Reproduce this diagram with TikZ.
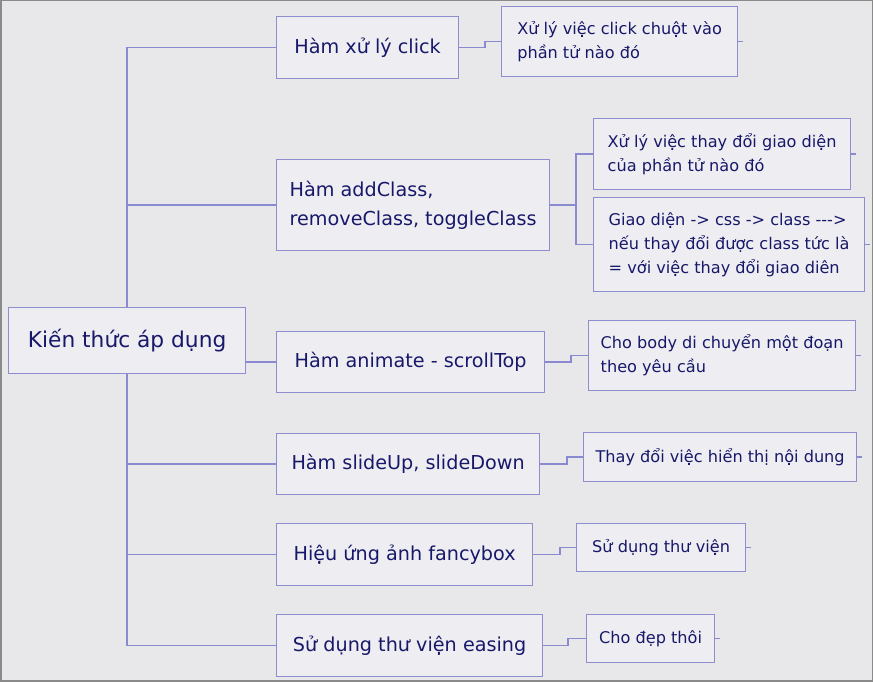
\documentclass[tikz,border=0pt]{standalone}
\usepackage{fontspec}
\setmainfont{DejaVu Sans}
\usetikzlibrary{backgrounds}
\definecolor{bgc}{HTML}{E8E8EB}
\definecolor{boxfill}{HTML}{EEEEF2}
\definecolor{boxline}{HTML}{8E8ECE}
\definecolor{connc}{HTML}{8A8AD0}
\definecolor{txt}{HTML}{18186A}
\definecolor{frame}{HTML}{8A8A8A}
\tikzset{
  basebox/.style={draw=boxline, fill=boxfill, line width=0.9pt, anchor=north west,
    align=left, text=txt, inner sep=0pt},
  rootbox/.style={basebox, font=\fontsize{16.3}{20}\selectfont},
  lonebox/.style={basebox, font=\fontsize{14.4}{21.75}\selectfont},
  ltwobox/.style={basebox, font=\fontsize{12.1}{18}\selectfont},
  conn/.style={draw=connc, line width=1.1pt},
}
\begin{document}
\begin{tikzpicture}[x=0.75pt,y=-0.75pt]
\useasboundingbox (0,0) rectangle (873,681);
% root
\node[rootbox, minimum width=177.75pt, minimum height=49.5pt] (R) at (8,307) {Kiến thức áp dụng};
% level 1
\node[lonebox, minimum width=136.5pt, minimum height=46.5pt] (A1) at (276,16) {Hàm xử lý click};
\node[lonebox, minimum width=204.75pt, minimum height=68.25pt] (A2) at (276,159) {Hàm addClass,\\removeClass, toggleClass};
\node[lonebox, minimum width=201pt, minimum height=45.75pt] (A3) at (276,331) {Hàm animate - scrollTop};
\node[lonebox, minimum width=197.25pt, minimum height=45.75pt] (A4) at (276,433) {Hàm slideUp, slideDown};
\node[lonebox, minimum width=192pt, minimum height=46.5pt] (A5) at (276,523) {Hiệu ứng ảnh fancybox};
\node[lonebox, minimum width=199.5pt, minimum height=46.5pt] (A6) at (276,614) {Sử dụng thư viện easing};
% level 2
\node[ltwobox, minimum width=177pt, minimum height=52.5pt] (B1) at (501,6) {Xử lý việc click chuột vào\\phần tử nào đó};
\node[ltwobox, minimum width=192.75pt, minimum height=53.25pt] (B2a) at (593,118) {Xử lý việc thay đổi giao diện\\của phần tử nào đó};
\node[ltwobox, minimum width=203.25pt, minimum height=70.5pt] (B2b) at (593,197) {Giao diện -> css -> class -{}-{}->\\nếu thay đổi được class tức là\\= với việc thay đổi giao diên};
\node[ltwobox, minimum width=200.25pt, minimum height=52.5pt] (B3) at (588,320) {Cho body di chuyển một đoạn\\theo yêu cầu};
\node[ltwobox, minimum width=204.75pt, minimum height=36.75pt] (B4) at (583,432) {Thay đổi việc hiển thị nội dung};
\node[ltwobox, minimum width=126.75pt, minimum height=36pt] (B5) at (576,523) {Sử dụng thư viện};
\node[ltwobox, minimum width=96pt, minimum height=36pt] (B6) at (586,614) {Cho đẹp thôi};
\begin{scope}[on background layer]
  \fill[bgc] (0,0) rectangle (873,681);
  \draw[frame, line width=1.5pt] (0.5,0.5) rectangle (872.5,680.5);
  \foreach \a in {A1,A2,A3,A4,A5,A6} \draw[conn] (R.center) |- (\a.west);
  \draw[conn] (A1.east) -- ++(26,0) |- (B1.west);
  \draw[conn] (A2.east) -- ++(26,0) |- (B2a.west);
  \draw[conn] (A2.east) -- ++(26,0) |- (B2b.west);
  \draw[conn] (A3.east) -- ++(26,0) |- (B3.west);
  \draw[conn] (A4.east) -- ++(27,0) |- (B4.west);
  \draw[conn] (A5.east) -- ++(27,0) |- (B5.west);
  \draw[conn] (A6.east) -- ++(25,0) |- (B6.west);
  \foreach \b in {B1,B2a,B2b,B3,B4,B5,B6} \draw[conn] (\b.east) -- ++(5,0);
\end{scope}
\end{tikzpicture}
\end{document}
